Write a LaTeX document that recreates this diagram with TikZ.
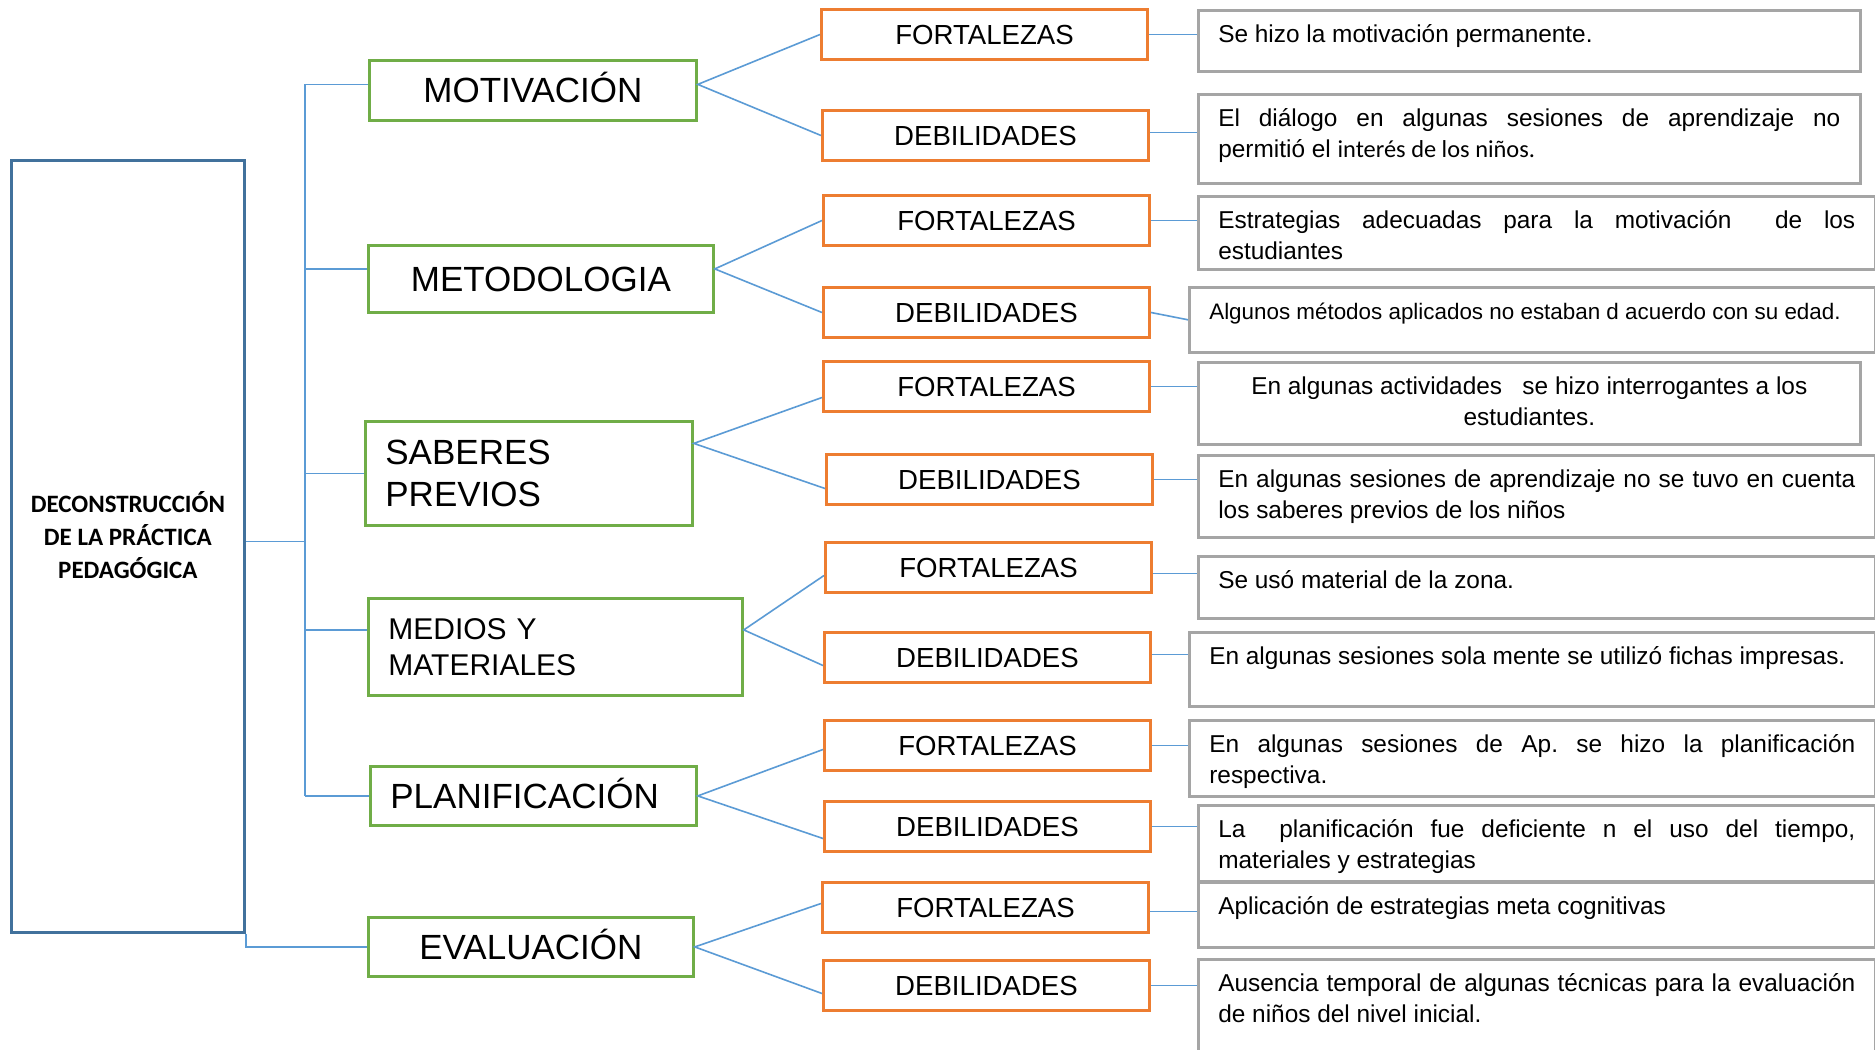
\documentclass[tikz,border=0pt]{standalone}
\usepackage{fontspec}
\setmainfont{Liberation Sans}
\newfontfamily\calfont{Carlito}
\definecolor{cgreen}{HTML}{70AD47}
\definecolor{corange}{HTML}{ED7D31}
\definecolor{cblue}{HTML}{5B9BD5}
\definecolor{cmain}{HTML}{41719C}
\definecolor{cgray}{HTML}{A5A5A5}
\frenchspacing
\newcommand\tcont[4][]{\parbox[c][#3][t]{#2}{#1\rule{0pt}{16pt}#4}}
\begin{document}
\begin{tikzpicture}[x=0.5pt,y=-0.5pt,
  conn/.style={draw=cblue, line width=0.8pt},
  mainbox/.style={draw=cmain, line width=1.4pt, anchor=north west, inner sep=0pt},
  gbox/.style={draw=cgreen, line width=1.4pt, anchor=north west, inner sep=0pt, font=\fontsize{17.5}{21}\selectfont},
  gone/.style={text height=12.5pt, text depth=0pt},
  obox/.style={draw=corange, line width=1.5pt, anchor=north west, inner sep=0pt, minimum width=163pt, minimum height=25pt, font=\fontsize{13.8}{16}\selectfont, text height=9.9pt, text depth=0pt},
  tbox/.style={draw=cgray, line width=1.3pt, anchor=north west, inner xsep=10pt, inner ysep=0pt, font=\fontsize{12.2}{15.5}\selectfont},
]
\useasboundingbox (0,0) rectangle (1875,1050);
\fill[white] (0,0) rectangle (1875,1050);
\clip (0,0) rectangle (1875,1050);

% main box
\node[mainbox, minimum width=116.5pt, minimum height=386pt] (main) at (10,159) {};
\node[font=\calfont\bfseries\fontsize{12.5}{16.5}\selectfont, align=center, inner sep=0pt] (mtext) at ([yshift=5.5pt]main.center) {DECONSTRUCCIÓN\\DE LA PRÁCTICA\\PEDAGÓGICA};

% green boxes
\node[gbox, gone, minimum width=163.5pt, minimum height=30pt] (mot) at (368,59) {MOTIVACIÓN};
\node[gbox, gone, minimum width=172.5pt, minimum height=33.5pt] (met) at (367,244) {METODOLOGIA};
\node[gbox, minimum width=163.5pt, minimum height=52pt, align=left, text width=143.5pt, inner xsep=10pt] (sab) at (364,420) {SABERES\\PREVIOS};
\node[gbox, minimum width=187pt, minimum height=48.5pt, align=left, text width=167pt, inner xsep=10pt, font=\fontsize{15}{18}\selectfont] (med) at (367,597) {MEDIOS Y\\MATERIALES};
\node[gbox, gone, minimum width=163pt, minimum height=29.5pt, align=left, text width=143pt, inner xsep=10pt] (pla) at (369,765) {PLANIFICACIÓN};
\node[gbox, gone, minimum width=162.5pt, minimum height=29.5pt] (eva) at (367,916) {EVALUACIÓN};

% orange boxes
\node[obox] (f1) at (820,8) {FORTALEZAS};
\node[obox] (d1) at (821,109) {DEBILIDADES};
\node[obox] (f2) at (822,194) {FORTALEZAS};
\node[obox] (d2) at (822,286) {DEBILIDADES};
\node[obox] (f3) at (822,360) {FORTALEZAS};
\node[obox] (d3) at (825,453) {DEBILIDADES};
\node[obox] (f4) at (824,541) {FORTALEZAS};
\node[obox] (d4) at (823,631) {DEBILIDADES};
\node[obox] (f5) at (823,719) {FORTALEZAS};
\node[obox] (d5) at (823,800) {DEBILIDADES};
\node[obox] (f6) at (821,881) {FORTALEZAS};
\node[obox] (d6) at (822,959) {DEBILIDADES};

% text boxes
\node[tbox] (t1) at (1197,9) {\tcont{311pt}{30.5pt}{Se hizo la motivación permanente.}};
\node[tbox] (t2) at (1197,93) {\tcont{311pt}{44.5pt}{El diálogo en algunas sesiones de aprendizaje no\linebreak permitió el {\calfont interés de los niños.}}};
\node[tbox] (t3) at (1197,195) {\tcont{318.5pt}{36.5pt}{Estrategias adecuadas para la motivación\ \ de los\linebreak estudiantes}};
\node[tbox] (t4) at (1188,286) {\tcont[\fontsize{11.2}{14}\selectfont]{323pt}{32.5pt}{Algunos métodos aplicados no estaban d acuerdo con su edad.}};
\node[tbox] (t5) at (1197,361) {\tcont[\centering]{311pt}{41pt}{En algunas actividades\ \ \ se hizo interrogantes a los\\ estudiantes.}};
\node[tbox] (t6) at (1197,454) {\tcont{318.5pt}{41pt}{En algunas sesiones de aprendizaje no se tuvo en cuenta\linebreak los saberes previos de los niños}};
\node[tbox] (t7) at (1197,555) {\tcont{318.5pt}{31pt}{Se usó material de la zona.}};
\node[tbox] (t8) at (1188,631) {\tcont{323pt}{37pt}{En algunas sesiones sola mente se utilizó fichas impresas.}};
\node[tbox] (t9) at (1188,719) {\tcont{323pt}{38pt}{En algunas sesiones de Ap. se hizo la planificación\linebreak respectiva.}};
\node[tbox] (t10) at (1197,804) {\tcont{318.5pt}{38pt}{La\ \ planificación fue deficiente n el uso del tiempo,\linebreak materiales y estrategias}};
\node[tbox] (t11) at (1197,881) {\tcont{318.5pt}{32.5pt}{Aplicación de estrategias meta cognitivas}};
\node[tbox] (t12) at (1197,958) {\tcont{318.5pt}{56pt}{Ausencia temporal de algunas técnicas para la evaluación\linebreak de niños del nivel inicial.}};

% trunk connectors
\coordinate (trx) at (305,0);
\draw[conn] ([yshift=2.5pt]main.east) -- ([yshift=2.5pt]main.east -| trx);
\draw[conn] ([yshift=3pt]mot.west -| trx) -- (pla.west -| trx);
\draw[conn] ([yshift=3pt]mot.west -| trx) -- ([yshift=3pt]mot.west);
\draw[conn] ([yshift=5pt]met.west -| trx) -- ([yshift=5pt]met.west);
\draw[conn] (sab.west -| trx) -- (sab.west);
\draw[conn] ([yshift=8.5pt]med.west -| trx) -- ([yshift=8.5pt]med.west);
\draw[conn] (pla.west -| trx) -- (pla.west);
\draw[conn] (main.south east) |- (eva.west);

% green to orange
\draw[conn] (f1.west) -- ([yshift=3pt]mot.east) -- (d1.west);
\draw[conn] (f2.west) -- ([yshift=5pt]met.east) -- (d2.west);
\draw[conn] ([yshift=-5.5pt]f3.west) -- ([yshift=15pt]sab.east) -- ([yshift=-4.5pt]d3.west);
\draw[conn] ([yshift=-4pt]f4.west) -- ([yshift=8.5pt]med.east) -- ([yshift=-4pt]d4.west);
\draw[conn] ([yshift=-2pt]f5.west) -- (pla.east) -- ([yshift=-6pt]d5.west);
\draw[conn] ([yshift=2pt]f6.west) -- (eva.east) -- ([yshift=-4pt]d6.west);

% orange to text
\draw[conn] (f1.east) -- (f1.east -| t1.west);
\draw[conn] ([yshift=1.5pt]d1.east) -- ([yshift=1.5pt]d1.east -| t2.west);
\draw[conn] (f2.east) -- (f2.east -| t3.west);
\draw[conn] (d2.east) -- (t4.west);
\draw[conn] (f3.east) -- (f3.east -| t5.west);
\draw[conn] (d3.east) -- (d3.east -| t6.west);
\draw[conn] ([yshift=-3pt]f4.east) -- ([yshift=-3pt]f4.east -| t7.west);
\draw[conn] ([yshift=1.5pt]d4.east) -- ([yshift=1.5pt]d4.east -| t8.west);
\draw[conn] (f5.east) -- (f5.east -| t9.west);
\draw[conn] (d5.east) -- (d5.east -| t10.west);
\draw[conn] ([yshift=-2pt]f6.east) -- ([yshift=-2pt]f6.east -| t11.west);
\draw[conn] (d6.east) -- (d6.east -| t12.west);
\end{tikzpicture}
\end{document}
